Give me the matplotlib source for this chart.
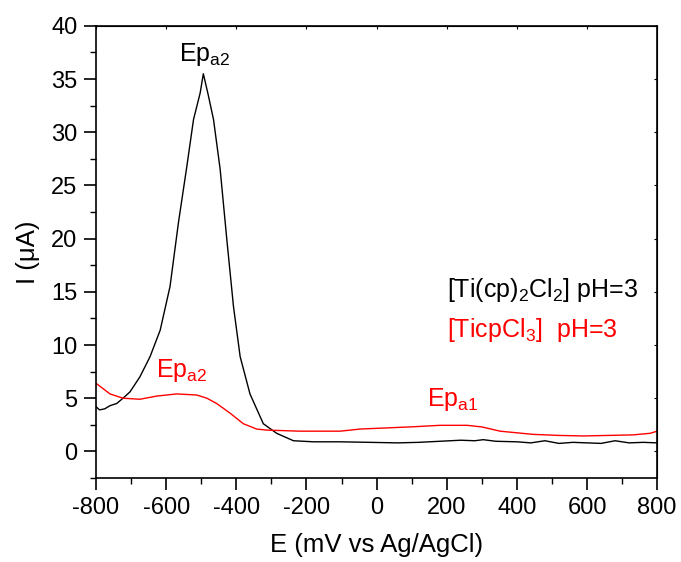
import matplotlib
matplotlib.use("Agg")
import matplotlib.pyplot as plt
from matplotlib.ticker import MultipleLocator

plt.rcParams['font.family'] = ['Liberation Sans', 'DejaVu Sans']
plt.rcParams['axes.unicode_minus'] = False
plt.rcParams['mathtext.fontset'] = 'custom'
plt.rcParams['mathtext.rm'] = 'Liberation Sans'

# black curve: [Ti(cp)2Cl2] pH=3
e_black = [-800, -790, -775, -760, -741, -723, -703, -675, -646, -617, -589, -565,
           -541, -522, -503, -494, -480, -465, -446, -427, -408, -389, -361, -323,
           -285, -237, -180, -104, -20, 60, 120, 180, 240, 280, 304, 340, 400, 440,
           480, 520, 560, 600, 640, 680, 720, 760, 800]
i_black = [4.2, 3.9, 4.0, 4.3, 4.5, 5.0, 5.6, 7.0, 8.9, 11.4, 15.5, 21.5,
           26.8, 31.2, 33.7, 35.5, 33.5, 31.2, 26.5, 19.9, 13.6, 8.9, 5.4, 2.6,
           1.7, 1.0, 0.9, 0.9, 0.85, 0.8, 0.85, 0.95, 1.05, 1.0, 1.1, 0.95, 0.9, 0.8,
           1.0, 0.75, 0.85, 0.8, 0.75, 1.0, 0.8, 0.85, 0.8]

# red curve: [TicpCl3] pH=3
e_red = [-800, -760, -723, -675, -627, -570, -513, -484, -456, -418, -380, -342,
         -313, -218, -104, -47, 96, 181, 258, 300, 352, 446, 520, 589, 660, 731,
         780, 800]
i_red = [6.4, 5.4, 5.0, 4.9, 5.2, 5.4, 5.3, 5.0, 4.5, 3.6, 2.6, 2.1,
         2.0, 1.9, 1.9, 2.1, 2.3, 2.45, 2.45, 2.3, 1.9, 1.6, 1.5, 1.45, 1.5, 1.55,
         1.7, 1.9]

fig = plt.figure(figsize=(6.81, 5.62), dpi=100)
ax = fig.add_axes([0.141, 0.1495, 0.824, 0.8045])

ax.plot(e_black, i_black, color='black', lw=1.0)
ax.plot(e_red, i_red, color='red', lw=1.0)

ax.set_xlim(-800, 800)
ax.set_ylim(-2.5, 40)
ax.xaxis.set_major_locator(MultipleLocator(200))
ax.xaxis.set_minor_locator(MultipleLocator(100))
ax.yaxis.set_major_locator(MultipleLocator(5))
ax.yaxis.set_minor_locator(MultipleLocator(2.5))

ax.tick_params(which='major', direction='out', length=8.5, width=1.2, labelsize=17, pad=5)
ax.tick_params(which='minor', direction='out', length=4.5, width=1.0)
ax.tick_params(which='both', top=False, right=False)
ax2 = ax.secondary_xaxis('top')
ax2.xaxis.set_major_locator(MultipleLocator(200))
ax2.tick_params(direction='in', length=2, labeltop=False)
ax3 = ax.secondary_yaxis('right')
ax3.yaxis.set_major_locator(MultipleLocator(5))
ax3.tick_params(direction='in', length=2, labelright=False)
for s in ax.spines.values():
    s.set_linewidth(1.2)

ax.set_xlabel('E (mV vs Ag/AgCl)', fontsize=18.5, labelpad=10)
ax.set_ylabel('I (μA)', fontsize=18.5, labelpad=8)

ax.text(-489, 37.3, r'Ep$_{\mathregular{a2}}$', color='black', fontsize=18, ha='center', va='center')
ax.text(-555, 7.6, r'Ep$_{\mathregular{a2}}$', color='red', fontsize=18, ha='center', va='center')
ax.text(218, 4.9, r'Ep$_{\mathregular{a1}}$', color='red', fontsize=18, ha='center', va='center')

ax.text(200, 15.2, r'[Ti(cp)$_{\mathregular{2}}$Cl$_{\mathregular{2}}$] pH=3', color='black',
        fontsize=18, ha='left', va='center')
ax.text(200, 11.4, r'[TicpCl$_{\mathregular{3}}$]  pH=3', color='red',
        fontsize=18, ha='left', va='center')

fig.savefig('out.png', dpi=100)
